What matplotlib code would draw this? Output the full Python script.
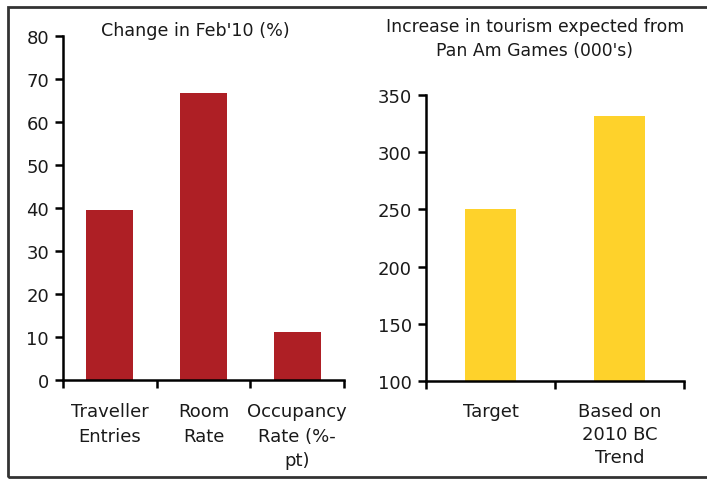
import matplotlib
matplotlib.use('Agg')
import matplotlib.pyplot as plt
from matplotlib.patches import Rectangle

# 数据
left_cats = ['Traveller\nEntries', 'Room\nRate', 'Occupancy\nRate (%-\npt)']
left_vals = [39.5, 66.7, 11.2]
right_cats = ['Target', 'Based on\n2010 BC\nTrend']
right_vals = [250, 332]

red = '#AE1F25'
yellow = '#FED22B'
txt = '#1a1a1a'

plt.rcParams['font.family'] = ['DejaVu Sans']

fig = plt.figure(figsize=(7.07, 4.81), dpi=100)

# 外框
fig.patches.append(Rectangle((8 / 707, 3 / 481), 1.2, 470 / 481, transform=fig.transFigure,
                             fill=False, edgecolor='#333333', linewidth=2.0, clip_on=False))


def style_axes(ax, n):
    for s in ['top', 'right']:
        ax.spines[s].set_visible(False)
    for s in ['left', 'bottom']:
        ax.spines[s].set_linewidth(1.8)
    ax.set_xlim(-0.5, n - 0.5)
    # 分类边界上画刻度，标签放在次刻度上
    ax.set_xticks([i - 0.5 for i in range(n + 1)])
    ax.set_xticklabels([])
    ax.tick_params(axis='x', which='major', direction='out', length=6, width=1.8)
    ax.tick_params(axis='y', direction='out', length=6, width=1.8, labelsize=13,
                   pad=4, labelcolor=txt)


# 左图
ax1 = fig.add_axes([63 / 707, 1 - 381 / 481, 281 / 707, 344 / 481])
ax1.bar(range(len(left_vals)), left_vals, width=0.5, color=red)
style_axes(ax1, len(left_vals))
ax1.set_ylim(0, 80)
ax1.set_yticks(range(0, 81, 10))
ax1.set_xticks(range(len(left_cats)), minor=True)
ax1.set_xticklabels(left_cats, minor=True, fontsize=13, linespacing=1.45, va='top', color=txt)
ax1.tick_params(axis='x', which='minor', length=0, pad=16)
fig.text(195 / 707, 1 - 31 / 481, "Change in Feb'10 (%)", ha='center', va='center',
         fontsize=12.6, color=txt)

# 右图
ax2 = fig.add_axes([426 / 707, 1 - 382 / 481, 258 / 707, 286 / 481])
ax2.bar(range(len(right_vals)), right_vals, width=0.4, color=yellow)
style_axes(ax2, len(right_vals))
ax2.set_ylim(100, 350)
ax2.set_yticks(range(100, 351, 50))
ax2.set_xticks(range(len(right_cats)), minor=True)
ax2.set_xticklabels(right_cats, minor=True, fontsize=13, linespacing=1.35, va='top', color=txt)
ax2.tick_params(axis='x', which='minor', length=0, pad=15)
fig.text(535 / 707, 1 - 39 / 481, "Increase in tourism expected from\nPan Am Games (000's)",
         ha='center', va='center', fontsize=12.4, linespacing=1.4, color=txt)

fig.savefig('out.png', dpi=100)
